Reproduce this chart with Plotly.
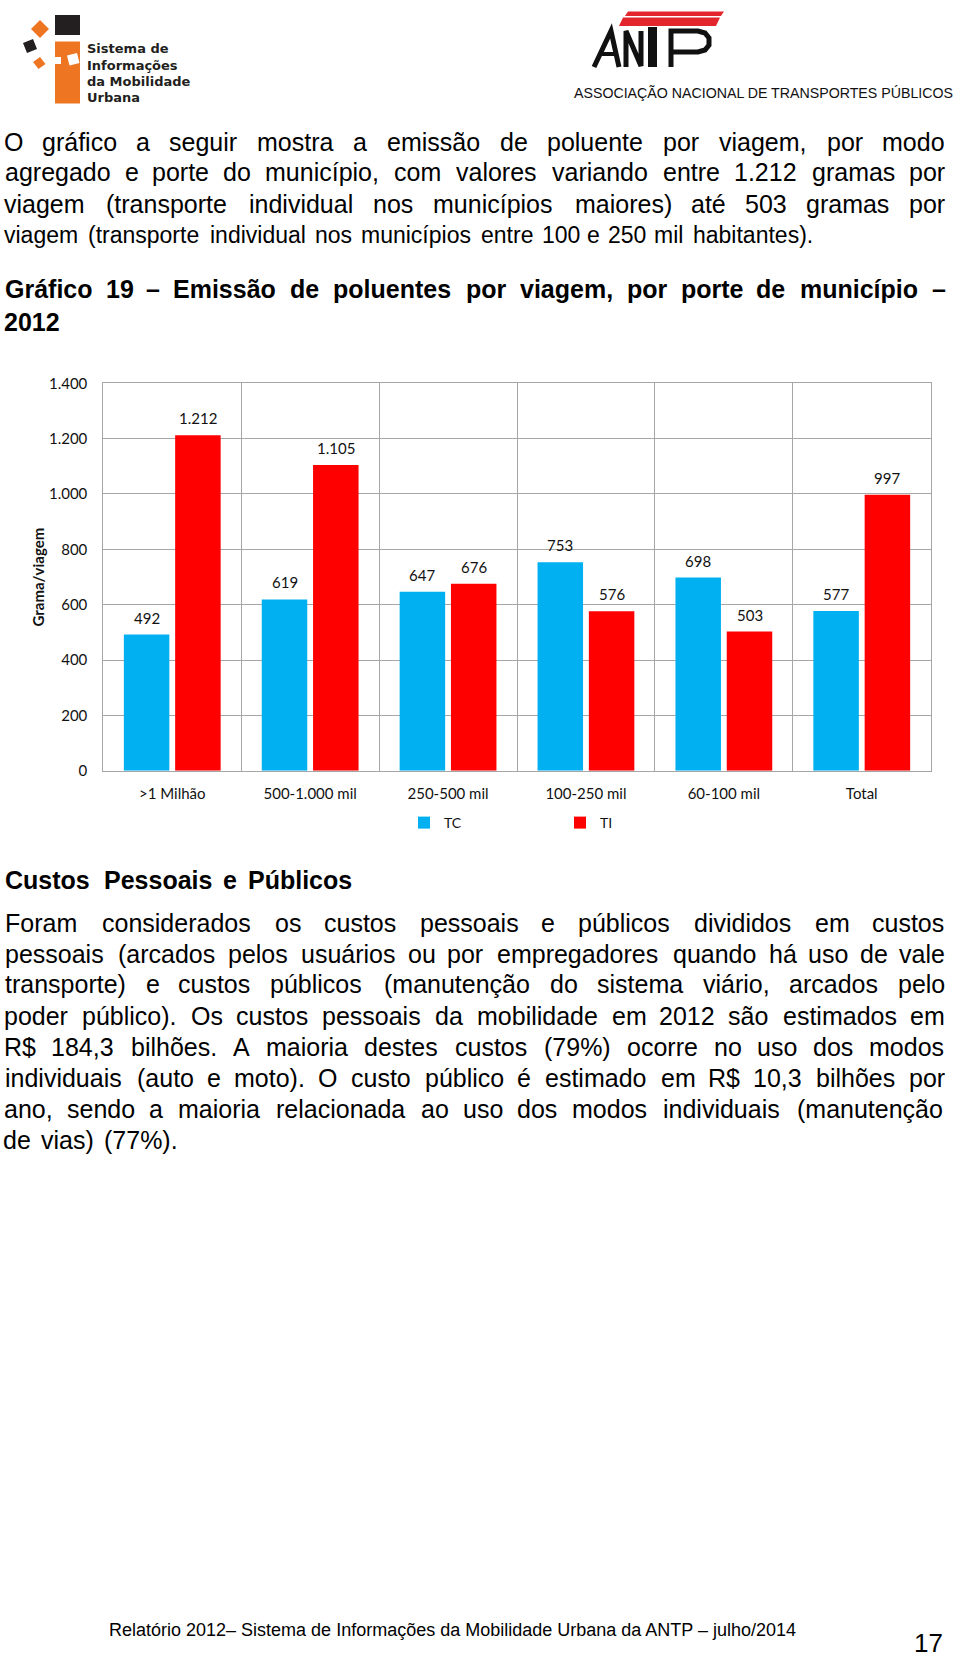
import unicodedata
import plotly.graph_objects as go

# ---------------- chart data ----------------
categories = [">1 Milhão", "500-1.000 mil", "250-500 mil", "100-250 mil", "60-100 mil", "Total"]
tc_values = [492, 619, 647, 753, 698, 577]
ti_values = [1212, 1105, 676, 576, 503, 997]
series_names = ["TC", "TI"]
series_colors = ["#00B0F0", "#FF0000"]
y_tick_values = [0, 200, 400, 600, 800, 1000, 1200, 1400]
y_axis_title = "Grama/viagem"

# ---------------- page text ----------------
para1 = [
    "O gráfico a seguir mostra a emissão de poluente por viagem, por modo",
    "agregado e porte do município, com valores variando entre 1.212 gramas por",
    "viagem (transporte individual nos municípios maiores) até 503 gramas por",
    "viagem (transporte individual nos municípios entre 100 e 250 mil habitantes).",
]
chart_heading = [
    "Gráfico 19 – Emissão de poluentes por viagem, por porte de município –",
    "2012",
]
section_heading = "Custos Pessoais e Públicos"
para2 = [
    "Foram considerados os custos pessoais e públicos divididos em custos",
    "pessoais (arcados pelos usuários ou por empregadores quando há uso de vale",
    "transporte) e custos públicos (manutenção do sistema viário, arcados pelo",
    "poder público). Os custos pessoais da mobilidade em 2012 são estimados em",
    "R$ 184,3 bilhões. A maioria destes custos (79%) ocorre no uso dos modos",
    "individuais (auto e moto). O custo público é estimado em R$ 10,3 bilhões por",
    "ano, sendo a maioria relacionada ao uso dos modos individuais (manutenção",
    "de vias) (77%).",
]
footer_text = "Relatório 2012– Sistema de Informações da Mobilidade Urbana da ANTP – julho/2014"
page_number = "17"
logo_left_lines = ["Sistema de", "Informações", "da Mobilidade", "Urbana"]
logo_right_sub = "ASSOCIAÇÃO NACIONAL DE TRANSPORTES PÚBLICOS"

W, H = 960, 1660
GRID = "#A6A6A6"
TXT = "#111111"
BODY_FONT = "Liberation Sans, Arial, sans-serif"
CHART_FONT = "Lato, Open Sans, sans-serif"


def px(x):
    return x / W


def py(y):
    return 1 - y / H


# Arial advance widths (1/1000 em), used to spread justified words
REG = {' ': 278, 'a': 556, 'b': 556, 'c': 500, 'd': 556, 'e': 556, 'f': 278, 'g': 556, 'h': 556,
       'i': 222, 'j': 222, 'k': 500, 'l': 222, 'm': 833, 'n': 556, 'o': 556, 'p': 556, 'q': 556,
       'r': 333, 's': 500, 't': 278, 'u': 556, 'v': 500, 'w': 722, 'x': 500, 'y': 500, 'z': 500,
       'A': 667, 'B': 667, 'C': 722, 'D': 722, 'E': 667, 'F': 611, 'G': 778, 'H': 722, 'I': 278,
       'J': 500, 'K': 667, 'L': 556, 'M': 833, 'N': 722, 'O': 778, 'P': 667, 'Q': 778, 'R': 722,
       'S': 667, 'T': 611, 'U': 722, 'V': 667, 'W': 944, 'X': 667, 'Y': 667, 'Z': 611,
       '.': 278, ',': 278, '(': 333, ')': 333, '%': 889, '$': 556, '-': 333, '/': 278,
       '–': 556, ':': 278, 'í': 278}
BOLD = {' ': 278, 'a': 556, 'b': 611, 'c': 556, 'd': 611, 'e': 556, 'f': 333, 'g': 611, 'h': 611,
        'i': 278, 'j': 278, 'k': 556, 'l': 278, 'm': 889, 'n': 611, 'o': 611, 'p': 611, 'q': 611,
        'r': 389, 's': 556, 't': 333, 'u': 611, 'v': 556, 'w': 778, 'x': 556, 'y': 556, 'z': 500,
        'A': 722, 'B': 722, 'C': 722, 'D': 722, 'E': 667, 'F': 611, 'G': 778, 'H': 722, 'I': 278,
        'J': 556, 'K': 722, 'L': 611, 'M': 833, 'N': 722, 'O': 778, 'P': 667, 'Q': 778, 'R': 722,
        'S': 667, 'T': 611, 'U': 722, 'V': 667, 'W': 944, 'X': 667, 'Y': 667, 'Z': 611,
        '.': 278, ',': 278, '(': 333, ')': 333, '%': 889, '$': 556, '-': 333, '/': 278,
        '–': 556, ':': 333, 'í': 278}


def text_w(s, bold):
    tab = BOLD if bold else REG
    tot = 0
    for ch in s:
        if ch.isdigit():
            tot += 556
            continue
        if ch not in tab:
            ch = unicodedata.normalize('NFD', ch)[0]
        tot += tab.get(ch, 556)
    return tot / 1000.0


annotations = []


def add_block(lines, y0, dy, sizes, metrics, bold, right_edges, x0=3):
    for k, line in enumerate(lines):
        words = line.split(' ')
        metric = metrics[k]
        widths = [text_w(w, bold) * metric for w in words]
        x1 = right_edges[k]
        if len(words) == 1:
            gap = 0
        else:
            gap = (x1 - x0 - sum(widths)) / (len(words) - 1)
        x = x0
        for w, wd in zip(words, widths):
            annotations.append(dict(
                x=px(x + wd / 2), y=py(y0 + k * dy), xref="paper", yref="paper",
                text=(f"<b>{w}</b>" if bold else w), showarrow=False,
                xanchor="center", yanchor="middle",
                font=dict(family=BODY_FONT, size=sizes[k], color="#000000")))
            x += wd + gap


add_block(para1, 141.5, 31, [25, 25, 25, 23], [26, 26, 26, 23.8], False, [946, 946, 946, 815])
add_block(chart_heading, 289.5, 32, [25, 25], [26.5, 26.5], True, [946, 58])
add_block([section_heading], 880, 31, [25], [26.5], True, [355])
add_block(para2, 922.5, 31, [25] * 8, [26] * 8, False, [946] * 7 + [179])

# footer
annotations.append(dict(x=px(452.5), y=py(1630), xref="paper", yref="paper", text=footer_text,
                        showarrow=False, xanchor="center", yanchor="middle",
                        font=dict(family=BODY_FONT, size=18, color="#000000")))
annotations.append(dict(x=px(945), y=py(1643), xref="paper", yref="paper", text=page_number,
                        showarrow=False, xanchor="right", yanchor="middle",
                        font=dict(family=BODY_FONT, size=26, color="#000000")))

# logos text
for k, t in enumerate(logo_left_lines):
    annotations.append(dict(x=px(85), y=py(49 + k * 16.3), xref="paper", yref="paper",
                            text=f"<b>{t}</b>", showarrow=False, xanchor="left", yanchor="middle",
                            font=dict(family="DejaVu Sans, sans-serif", size=13, color="#231F20")))
annotations.append(dict(x=px(763), y=py(92.5), xref="paper", yref="paper", text=logo_right_sub,
                        showarrow=False, xanchor="center", yanchor="middle",
                        font=dict(family=BODY_FONT, size=14.2, color="#111111")))

# y axis title
annotations.append(dict(x=px(37.5), y=py(577), xref="paper", yref="paper",
                        text=f"<b>{y_axis_title}</b>", textangle=-90, showarrow=False,
                        xanchor="center", yanchor="middle",
                        font=dict(family=CHART_FONT, size=15, color=TXT)))

# ---------------- figure ----------------
xpos = list(range(len(categories)))
bargap = 0.256
fig = go.Figure()
for name, vals, col in zip(series_names, [tc_values, ti_values], series_colors):
    fig.add_trace(go.Bar(x=xpos, y=vals, name=name, marker=dict(color=col, line=dict(width=0)),
                         hoverinfo="y"))

# value labels above bars
n_series = 2
group_w = 1 - bargap
for j, vals in enumerate([tc_values, ti_values]):
    off = (-0.5 + (j + 0.5) / n_series) * group_w
    for i, v in enumerate(vals):
        annotations.append(dict(x=xpos[i] + off, y=v, xref="x", yref="y",
                                text=f"{v:,}".replace(",", "."), showarrow=False,
                                xanchor="center", yanchor="middle", yshift=17,
                                font=dict(family=CHART_FONT, size=15, color=TXT)))

shapes = []


def poly(points, color):
    d = "M " + " L ".join(f"{px(a):.5f},{py(b):.5f}" for a, b in points) + " Z"
    return dict(type="path", xref="paper", yref="paper", path=d, fillcolor=color, line=dict(width=0))


def polyline(points, color, width):
    d = "M " + " L ".join(f"{px(a):.5f},{py(b):.5f}" for a, b in points)
    return dict(type="path", xref="paper", yref="paper", path=d,
                line=dict(color=color, width=width), fillcolor="rgba(0,0,0,0)")


# left logo
shapes.append(dict(type="rect", xref="paper", yref="paper", x0=px(55), x1=px(80), y0=py(35), y1=py(15),
                   fillcolor="#231F20", line=dict(width=0)))
shapes.append(dict(type="rect", xref="paper", yref="paper", x0=px(55), x1=px(80), y0=py(103.5), y1=py(41.5),
                   fillcolor="#EE7623", line=dict(width=0)))
shapes.append(poly([(55, 57), (61, 57), (61, 64), (55, 64)], "#FFFFFF"))
shapes.append(poly([(67, 55.5), (77, 53), (79.5, 63), (69.5, 65.5)], "#FFFFFF"))
shapes.append(poly([(40, 20), (49, 29), (40, 38), (31, 29)], "#EE7623"))
shapes.append(poly([(23, 43), (33, 39), (37, 49), (27, 53)], "#231F20"))
shapes.append(poly([(33, 62), (40, 57), (45.5, 64), (38.5, 69)], "#EE7623"))

# right logo (ANTP)
LOGO_INK = "#111111"
shapes.append(poly([(628, 11.5), (724, 11.5), (721, 16), (625, 16)], "#E3262D"))
shapes.append(poly([(623, 17.5), (720, 17.5), (716, 26), (619, 26)], "#E3262D"))
shapes.append(dict(type="rect", xref="paper", yref="paper", x0=px(648), x1=px(657), y0=py(67), y1=py(27),
                   fillcolor=LOGO_INK, line=dict(width=0)))
# letter A
shapes.append(polyline([(594, 67), (611, 31), (619, 67)], LOGO_INK, 5))
shapes.append(polyline([(601, 54), (617, 54)], LOGO_INK, 4))
# letter N
shapes.append(polyline([(626, 67), (626, 31), (641, 66), (641, 31)], LOGO_INK, 5))
# letter P
shapes.append(polyline([(671, 67), (671, 31), (698, 31), (705, 33), (709, 38), (709, 45),
                        (705, 50), (698, 52), (671, 52)], LOGO_INK, 5))

fig.update_layout(
    width=W, height=H,
    margin=dict(l=0, r=0, t=0, b=0, pad=0),
    paper_bgcolor="white", plot_bgcolor="white",
    separators=",.",
    barmode="group", bargap=bargap, bargroupgap=0.113,
    showlegend=True,
    legend=dict(orientation="h", x=px(404), xanchor="left", y=py(823), yanchor="middle",
                entrywidth=111, entrywidthmode="pixels", bgcolor="rgba(0,0,0,0)",
                font=dict(family=CHART_FONT, size=14, color=TXT), traceorder="normal"),
    xaxis=dict(domain=[px(103.3), px(930.7)], range=[-0.5, len(categories) - 0.5],
               tickmode="array", tickvals=xpos, ticktext=categories,
               showgrid=False, zeroline=False, showline=True, linecolor=GRID, linewidth=1, mirror=True,
               ticks="outside", ticklen=9, tickcolor="rgba(0,0,0,0)",
               tickfont=dict(family=CHART_FONT, size=15, color=TXT),
               minor=dict(tickmode="array", tickvals=[i - 0.5 for i in range(len(categories) + 1)],
                          showgrid=True, gridcolor=GRID, gridwidth=1, ticks=""),
               fixedrange=True, automargin=False),
    yaxis=dict(domain=[py(770.7), py(383.3)], range=[0, 1400],
               tickmode="array", tickvals=y_tick_values, tickformat=",d", separatethousands=True,
               showgrid=True, gridcolor=GRID, gridwidth=1, zeroline=False,
               showline=True, linecolor=GRID, linewidth=1, mirror=True,
               ticks="outside", ticklen=12, tickcolor="rgba(0,0,0,0)",
               tickfont=dict(family=CHART_FONT, size=15, color=TXT),
               fixedrange=True, automargin=False),
    annotations=annotations,
    shapes=shapes,
)

fig.write_html("out.html")
